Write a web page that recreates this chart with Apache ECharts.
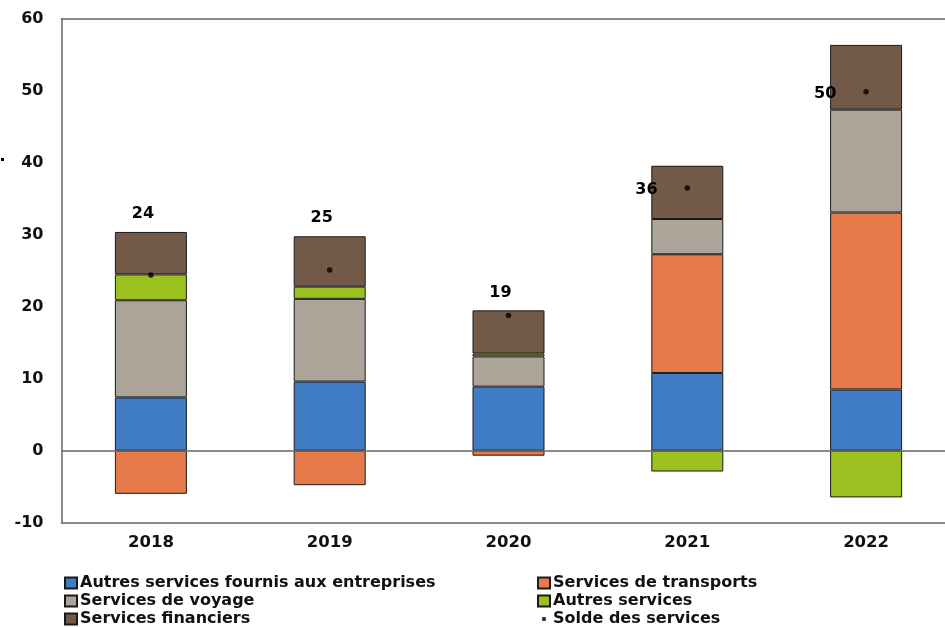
<!DOCTYPE html>
<html>
<head>
<meta charset="utf-8">
<script src="https://cdn.jsdelivr.net/npm/echarts@6/dist/echarts.min.js"></script>
<style>
html,body{margin:0;padding:0;background:#fff;overflow:hidden;}
#wrap{position:relative;width:945px;height:627px;overflow:hidden;}
#chart{position:absolute;left:0;top:0;width:970px;height:627px;}
</style>
</head>
<body>
<div id="wrap"><div id="chart"></div></div>
<script>
// ---- Data ----
const years = ['2018', '2019', '2020', '2021', '2022'];
const autresEntreprises = [7.4, 9.6, 8.9, 10.8, 8.5];
const transports = [-6.0, -4.8, -0.7, 16.5, 24.6];
const voyage = [13.5, 11.5, 4.2, 4.9, 14.3];
const autresServices = [3.6, 1.7, 0.4, -2.9, -6.5];
const financiers = [5.9, 7.0, 6.0, 7.4, 9.0];
const solde = [24.4, 25.1, 18.8, 36.5, 49.9];
const soldeLabels = ['24', '25', '19', '36', '50'];
const yTicks = { min: -10, max: 60, interval: 10 };

// ---- Styles ----
const FONT = '"DejaVu Sans", "Liberation Sans", Arial, sans-serif';
const colors = {
  blue: '#407CC4', orange: '#E57A4A', grey: '#ACA498', green: '#9BC120', brown: '#735A48'
};
const border = { borderColor: '#1a1a1a', borderWidth: 1 };
const frameLine = { show: true, onZero: false, lineStyle: { color: '#666', width: 1.5 } };
// categories whose total is labelled above the bar (others: left of the dot)
const labelAbove = (i) => i < 3;

const chart = echarts.init(document.getElementById('chart'), null, { renderer: 'canvas' });

function barSeries(name, data, color, extra) {
  return Object.assign({
    name, type: 'bar', stack: 'total', data,
    barWidth: 72,
    itemStyle: Object.assign({ color }, border),
    emphasis: { disabled: true },
    animation: false
  }, extra || {});
}

const labelFont = { fontFamily: FONT, fontWeight: 'bold', fontSize: 16, color: '#000', opacity: 1, textBorderWidth: 0 };

const dotIcon = 'path://M0 0L0 0M20 20L20 20M10 6A4 4 0 1 1 10 14A4 4 0 1 1 10 6Z';

const legendText = { fontFamily: FONT, fontWeight: 'bold', fontSize: 16, lineHeight: 16, color: '#111', padding: [0, 0, 0, -2] };

const option = {
  animation: false,
  backgroundColor: '#fff',
  grid: { left: 61.5, top: 19, width: 894, height: 503.6, show: false },
  xAxis: [{
    type: 'category', data: years, position: 'bottom',
    axisLine: frameLine, axisTick: { show: false },
    axisLabel: { margin: 12, fontFamily: FONT, fontWeight: 'bold', fontSize: 16.5, color: '#111' },
    splitLine: { show: false }
  }, {
    type: 'category', data: years, position: 'top',
    axisLine: frameLine, axisTick: { show: false }, axisLabel: { show: false },
    splitLine: { show: false }
  }],
  yAxis: {
    type: 'value', min: yTicks.min, max: yTicks.max, interval: yTicks.interval,
    axisLine: frameLine, axisTick: { show: false }, splitLine: { show: false },
    axisLabel: { margin: 18, fontFamily: FONT, fontWeight: 'bold', fontSize: 16, color: '#111' }
  },
  legend: [
    {
      orient: 'vertical', left: 64, top: 575, height: 60, padding: 0, itemWidth: 12, itemHeight: 11, itemGap: 2,
      selectedMode: false, icon: 'rect',
      textStyle: legendText,
      data: ['Autres services fournis aux entreprises', 'Services de voyage', 'Services financiers']
    },
    {
      orient: 'vertical', left: 537, top: 575, height: 60, padding: 0, itemWidth: 12, itemHeight: 11, itemGap: 2,
      selectedMode: false, icon: 'rect',
      textStyle: legendText,
      data: ['Services de transports', 'Autres services', { name: 'Solde des services', icon: dotIcon }]
    }
  ],
  graphic: [
    { type: 'rect', left: 1, top: 158, shape: { width: 3, height: 3 }, style: { fill: '#000' }, silent: true }
  ],
  series: [
    barSeries('Autres services fournis aux entreprises', autresEntreprises, colors.blue, {
      markLine: {
        silent: true, symbol: 'none', animation: false,
        label: { show: false },
        lineStyle: { color: '#666', width: 1.5, type: 'solid' },
        data: [{ yAxis: 0 }]
      }
    }),
    barSeries('Services de transports', transports, colors.orange),
    barSeries('Services de voyage', voyage, colors.grey),
    barSeries('Autres services', autresServices, colors.green),
    barSeries('Services financiers', financiers.map((v, i) => ({
      value: v,
      label: {
        show: labelAbove(i), position: 'top', distance: 10, offset: [-8, 0],
        formatter: () => soldeLabels[i], ...labelFont
      }
    })), colors.brown),
    {
      name: 'Solde des services', type: 'scatter', data: solde.map((v, i) => ({
        value: v,
        label: {
          show: !labelAbove(i), position: 'left', distance: 27, offset: [0, 2],
          formatter: () => soldeLabels[i], ...labelFont
        }
      })),
      symbol: 'circle', symbolSize: 5.5, z: 10,
      itemStyle: { color: '#000' },
      emphasis: { disabled: true }
    }
  ]
};
chart.setOption(option);
</script>
</body>
</html>
